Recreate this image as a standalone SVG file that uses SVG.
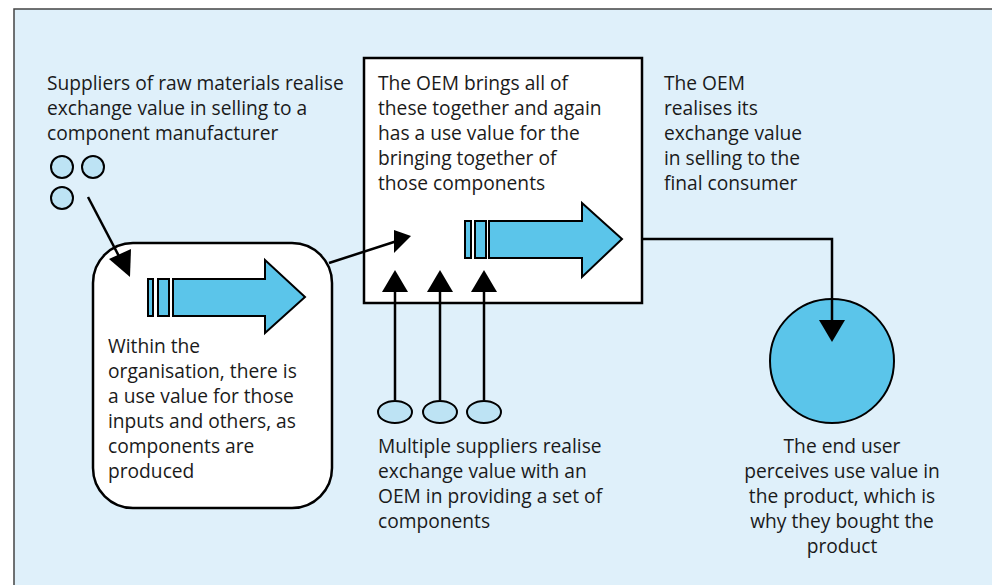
<svg xmlns="http://www.w3.org/2000/svg" width="992" height="585" viewBox="0 0 992 585">
<defs>
<style>
.t{font-family:"Open Sans","Noto Sans","Liberation Sans",sans-serif;font-size:19.2px;fill:#1a1a1a}
.box{fill:#ffffff;stroke:#000;stroke-width:2.5}
.arr{fill:#5bc5ea;stroke:#000;stroke-width:2}
.sup{fill:#bde3f4;stroke:#000;stroke-width:2}
.ln{fill:none;stroke:#000;stroke-width:2.5}
.hd{fill:#000}
</style>
</defs>
<rect x="0" y="0" width="992" height="585" fill="#ffffff"/>
<rect x="14" y="9" width="978" height="576" fill="#dff0fa"/>
<path d="M14,585 L14,9 L992,9" fill="none" stroke="#444" stroke-width="1.5"/>

<g id="raw-suppliers">
<text class="t" x="47" y="90">Suppliers of raw materials realise</text>
<text class="t" x="47" y="115">exchange value in selling to a</text>
<text class="t" x="47" y="140">component manufacturer</text>
<circle class="sup" cx="62" cy="167" r="11"/>
<circle class="sup" cx="93" cy="167" r="11"/>
<circle class="sup" cx="62" cy="198" r="11"/>
</g>

<g id="organisation">
<rect class="box" x="93" y="243" width="239" height="265" rx="40" ry="40"/>
<rect class="arr" x="148" y="279" width="5" height="37"/>
<rect class="arr" x="158" y="279" width="11" height="37"/>
<path class="arr" d="M173,279 L265,279 L265,260 L305,297 L265,333 L265,316 L173,316 Z"/>
<text class="t" x="108" y="353">Within the</text>
<text class="t" x="108" y="378">organisation, there is</text>
<text class="t" x="108" y="403">a use value for those</text>
<text class="t" x="108" y="428">inputs and others, as</text>
<text class="t" x="108" y="453">components are</text>
<text class="t" x="108" y="478">produced</text>
</g>

<g id="oem">
<rect class="box" x="364" y="58" width="278" height="245"/>
<text class="t" x="378" y="90">The OEM brings all of</text>
<text class="t" x="378" y="115">these together and again</text>
<text class="t" x="378" y="140">has a use value for the</text>
<text class="t" x="378" y="165">bringing together of</text>
<text class="t" x="378" y="190">those components</text>
<rect class="arr" x="465" y="221" width="6" height="37"/>
<rect class="arr" x="475" y="221" width="11" height="37"/>
<path class="arr" d="M489,221 L582,221 L582,203 L622,239 L582,277 L582,258 L489,258 Z"/>
</g>

<g id="oem-sale">
<text class="t" x="664" y="90">The OEM</text>
<text class="t" x="664" y="115">realises its</text>
<text class="t" x="664" y="140">exchange value</text>
<text class="t" x="664" y="165">in selling to the</text>
<text class="t" x="664" y="190">final consumer</text>
</g>

<g id="component-suppliers">
<ellipse class="sup" cx="395" cy="412" rx="17" ry="11"/>
<ellipse class="sup" cx="440" cy="412" rx="17" ry="11"/>
<ellipse class="sup" cx="484" cy="412" rx="17" ry="11"/>
<text class="t" x="378" y="453">Multiple suppliers realise</text>
<text class="t" x="378" y="478">exchange value with an</text>
<text class="t" x="378" y="503">OEM in providing a set of</text>
<text class="t" x="378" y="528">components</text>
</g>

<g id="end-user">
<circle cx="832" cy="361" r="62" fill="#5bc5ea" stroke="#000" stroke-width="2"/>
<text class="t" x="842" y="453" text-anchor="middle">The end user</text>
<text class="t" x="842" y="478" text-anchor="middle">perceives use value in</text>
<text class="t" x="842" y="503" text-anchor="middle">the product, which is</text>
<text class="t" x="842" y="528" text-anchor="middle">why they bought the</text>
<text class="t" x="842" y="553" text-anchor="middle">product</text>
</g>

<g id="connectors">
<line class="ln" x1="88" y1="197" x2="122" y2="262"/>
<path class="hd" d="M130,277 L109,259 L131,249 Z"/>
<line class="ln" x1="329" y1="263" x2="397" y2="241"/>
<path class="hd" d="M411,236 L394,230 L394,253 Z"/>
<line class="ln" x1="395" y1="400" x2="395" y2="290"/>
<path class="hd" d="M395,270 L382,292 L408,292 Z"/>
<line class="ln" x1="440" y1="400" x2="440" y2="290"/>
<path class="hd" d="M440,270 L427,292 L453,292 Z"/>
<line class="ln" x1="484" y1="400" x2="484" y2="290"/>
<path class="hd" d="M484,270 L471,292 L497,292 Z"/>
<polyline class="ln" points="642,239 832,239 832,322"/>
<path class="hd" d="M832,342 L819,320 L845,320 Z"/>
</g>
</svg>
